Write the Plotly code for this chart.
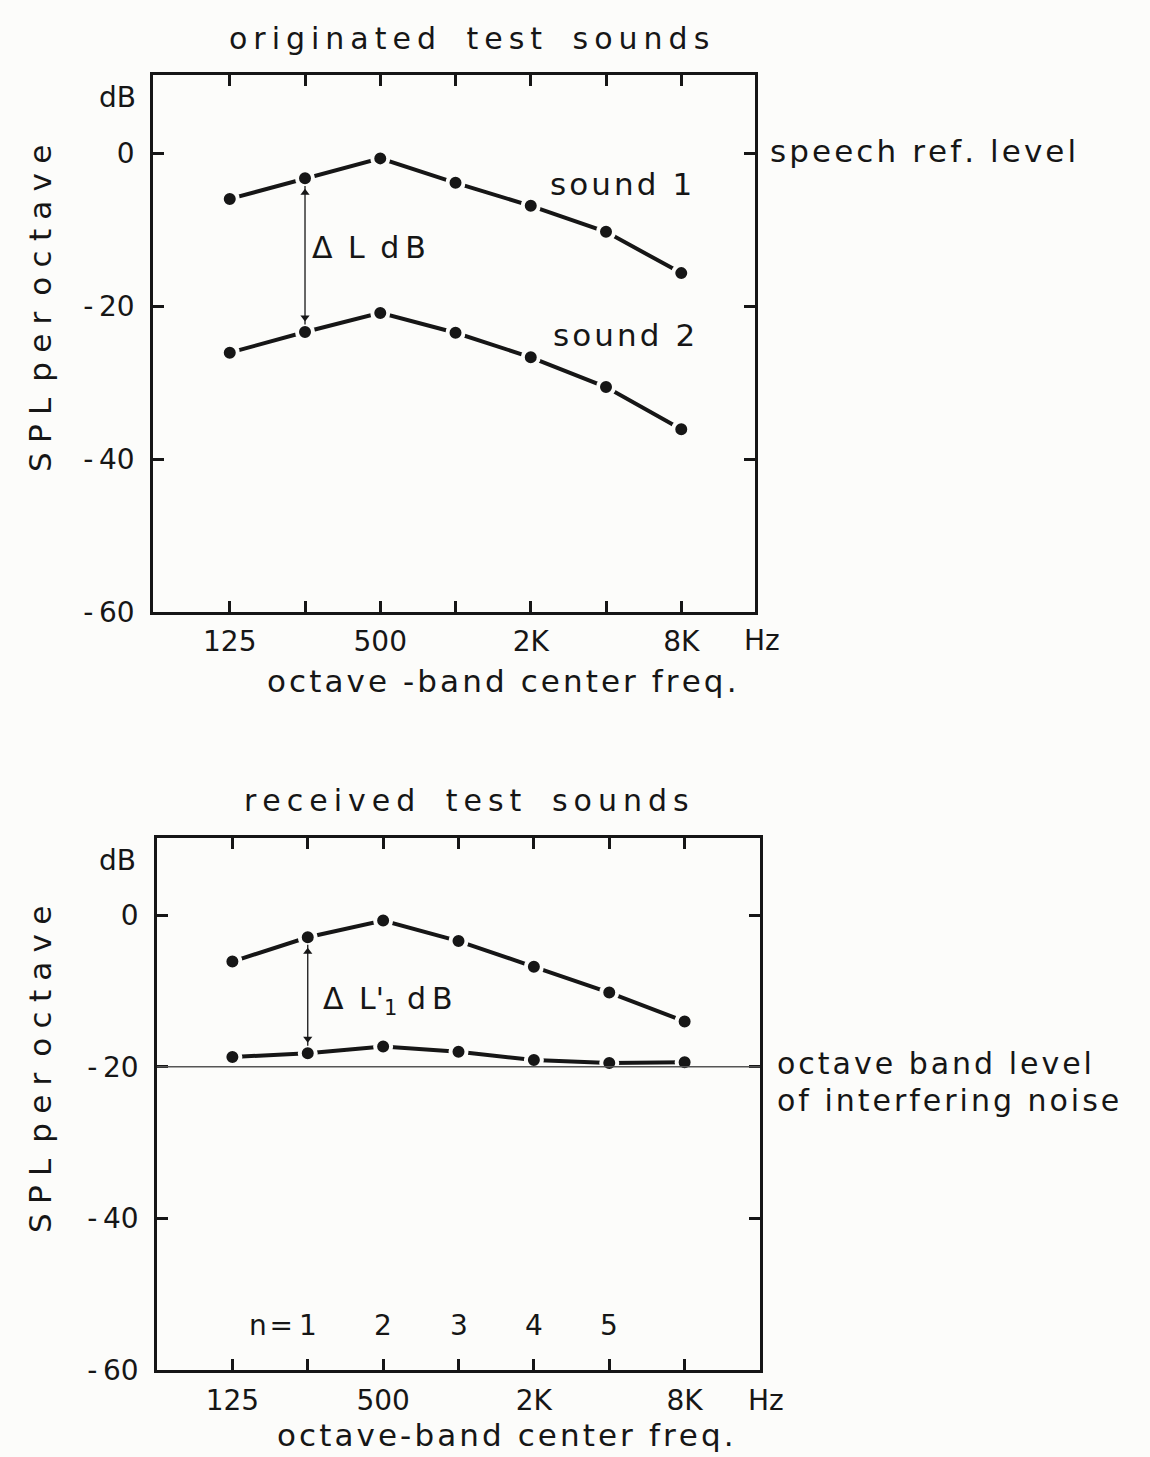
import plotly.graph_objects as go

# ---------------- data ----------------
freq_labels = ["125", "250", "500", "1K", "2K", "4K", "8K"]
octave_idx = [0, 1, 2, 3, 4, 5, 6]
tick_text = ["125", " ", "500", " ", "2K", " ", "8K"]

sound1_orig = [-6.0, -3.3, -0.7, -3.9, -6.9, -10.3, -15.7]
sound2_orig = [-26.1, -23.4, -20.9, -23.5, -26.7, -30.6, -36.1]

sound1_recv = [-6.1, -2.9, -0.7, -3.4, -6.8, -10.2, -14.0]
sound2_recv = [-18.7, -18.2, -17.3, -18.0, -19.1, -19.5, -19.4]

noise_level = -20
n_labels = ["1", "2", "3", "4", "5"]
n_positions = [1, 2, 3, 4, 5]

y_ticks = [0, -20, -40, -60]
y_ticktext = ["0", "-\u200920", "-\u200940", "-\u200960"]

W, H = 1150, 1457
H_EFF = 1440  # observed effective drawing height
FONT = "DejaVu Sans"
INK = "#161616"
BG = "#fcfcfa"
TS = "\u2009"  # thin space
HS = "\u200a"  # hair space
LG = HS        # letter gap


def sp(s, gap=LG, word=" " + TS):
    """Letter-space a string: gap between letters, wider gap between words."""
    out = []
    for i, ch in enumerate(s):
        if ch == " ":
            out.append(word)
            continue
        out.append(ch)
        if i + 1 < len(s) and s[i + 1] != " ":
            out.append(gap)
    return "".join(out)


def px(xp):
    return xp / W


def py(yp):
    return 1 - yp / H_EFF


fig = go.Figure()

line_style = dict(color=INK, width=4)
marker_style = dict(color=INK, size=16, line=dict(color=BG, width=4))

for xa, ya, s in [("x", "y", sound1_orig), ("x", "y", sound2_orig),
                  ("x2", "y2", sound1_recv), ("x2", "y2", sound2_recv)]:
    fig.add_trace(go.Scatter(x=octave_idx, y=s, mode="lines+markers",
                             line=line_style, marker=marker_style,
                             xaxis=xa, yaxis=ya, showlegend=False,
                             cliponaxis=False))

# double-headed arrows (line + triangle heads) between the two curves at 250 Hz
for xa, ya, top, bot in [("x", "y", sound1_orig[1], sound2_orig[1]),
                         ("x2", "y2", sound1_recv[1], sound2_recv[1])]:
    fig.add_trace(go.Scatter(x=[1, 1], y=[top - 1.0, bot + 1.0], mode="lines",
                             line=dict(color=INK, width=1.3),
                             xaxis=xa, yaxis=ya, showlegend=False,
                             hoverinfo="skip"))
    fig.add_trace(go.Scatter(x=[1, 1], y=[top - 1.9, bot + 1.9], mode="markers",
                             marker=dict(symbol=["triangle-up", "triangle-down"],
                                         size=8, color=INK),
                             xaxis=xa, yaxis=ya, showlegend=False,
                             hoverinfo="skip"))

axis_common = dict(
    showgrid=False, zeroline=False, showline=True, linewidth=2.5,
    linecolor=INK, mirror="ticks", ticks="inside", ticklen=11,
    tickwidth=2.5, tickcolor=INK,
    tickfont=dict(family=FONT, size=28, color=INK),
)

fig.update_layout(
    width=W, height=H,
    margin=dict(l=0, r=0, t=0, b=0),
    paper_bgcolor=BG, plot_bgcolor=BG,
    showlegend=False,
    xaxis=dict(domain=[px(153), px(755)], range=[-1.02, 6.98],
               tickvals=octave_idx, ticktext=tick_text,
               ticklabelstandoff=3, anchor="y", **axis_common),
    yaxis=dict(domain=[py(612), py(75)], range=[-60, 10.2],
               tickvals=y_ticks, ticktext=y_ticktext,
               ticklabelstandoff=10, anchor="x", **axis_common),
    xaxis2=dict(domain=[px(157), px(760)], range=[-1.0, 7.0],
                tickvals=octave_idx, ticktext=tick_text,
                ticklabelstandoff=4, anchor="y2", **axis_common),
    yaxis2=dict(domain=[py(1370), py(838)], range=[-60, 10.2],
                tickvals=y_ticks, ticktext=y_ticktext,
                ticklabelstandoff=10, anchor="x2", **axis_common),
)

# noise level line
fig.add_shape(type="line", xref="x2", yref="y2", x0=-1.0, x1=7.0,
              y0=noise_level, y1=noise_level,
              line=dict(color="#555555", width=1.5))


def txt(text, x, y, xref="paper", yref="paper", xanchor="center",
        yanchor="middle", size=30, angle=0, align="center"):
    fig.add_annotation(text=text, x=x, y=y, xref=xref, yref=yref,
                       xanchor=xanchor, yanchor=yanchor, showarrow=False,
                       textangle=angle, align=align,
                       font=dict(family=FONT, size=size, color=INK))


TW = " \u2002" + TS  # wide word gap for titles

# top panel texts
txt(sp("originated", TS) + TW + sp("test", TS) + TW + sp("sounds", TS),
    px(469), py(38))
txt("dB", px(117), py(98), size=28)
txt(sp("SPL per octave", TS + HS, " " + TS), px(40), py(309), angle=-90, size=31)
txt("Hz", px(762), py(640), size=28)
txt(sp("octave -band center freq."), px(501), py(681), size=31)
txt("Δ " + TS + "L " + TS + sp("dB", TS), 1.06, -12.4, xref="x", yref="y", xanchor="left")
txt(sp("sound 1"), 4.23, -4.0, xref="x", yref="y", xanchor="left", size=31)
txt(sp("sound 2"), 4.27, -23.8, xref="x", yref="y", xanchor="left", size=31)
txt(sp("speech ref. level"), px(768), 0.3, yref="y", xanchor="left", size=31)

# bottom panel texts
txt(sp("received", TS) + TW + sp("test", TS) + TW + sp("sounds", TS), px(466), py(800))
txt("dB", px(117), py(860), size=28)
txt(sp("SPL per octave", TS + HS, " " + TS), px(40), py(1070), angle=-90, size=31)
txt("Hz", px(766), py(1400), size=28)
txt(sp("octave-band center freq."), px(505), py(1435), size=31)
txt("Δ " + TS + "L'<sub>1</sub> " + sp("dB", TS), 1.17, -11.2, xref="x2", yref="y2", xanchor="left")
txt("n" + HS + "=", 0.83, -54.1, xref="x2", yref="y2", xanchor="right", size=28)
for lbl, pos in zip(n_labels, n_positions):
    txt(lbl, pos, -54.1, xref="x2", yref="y2", size=28)
txt(sp("octave band level"), px(775), py(1063), xanchor="left", size=30)
txt(sp("of interfering noise"), px(775), py(1100), xanchor="left", size=30)

fig.write_html("out.html")
